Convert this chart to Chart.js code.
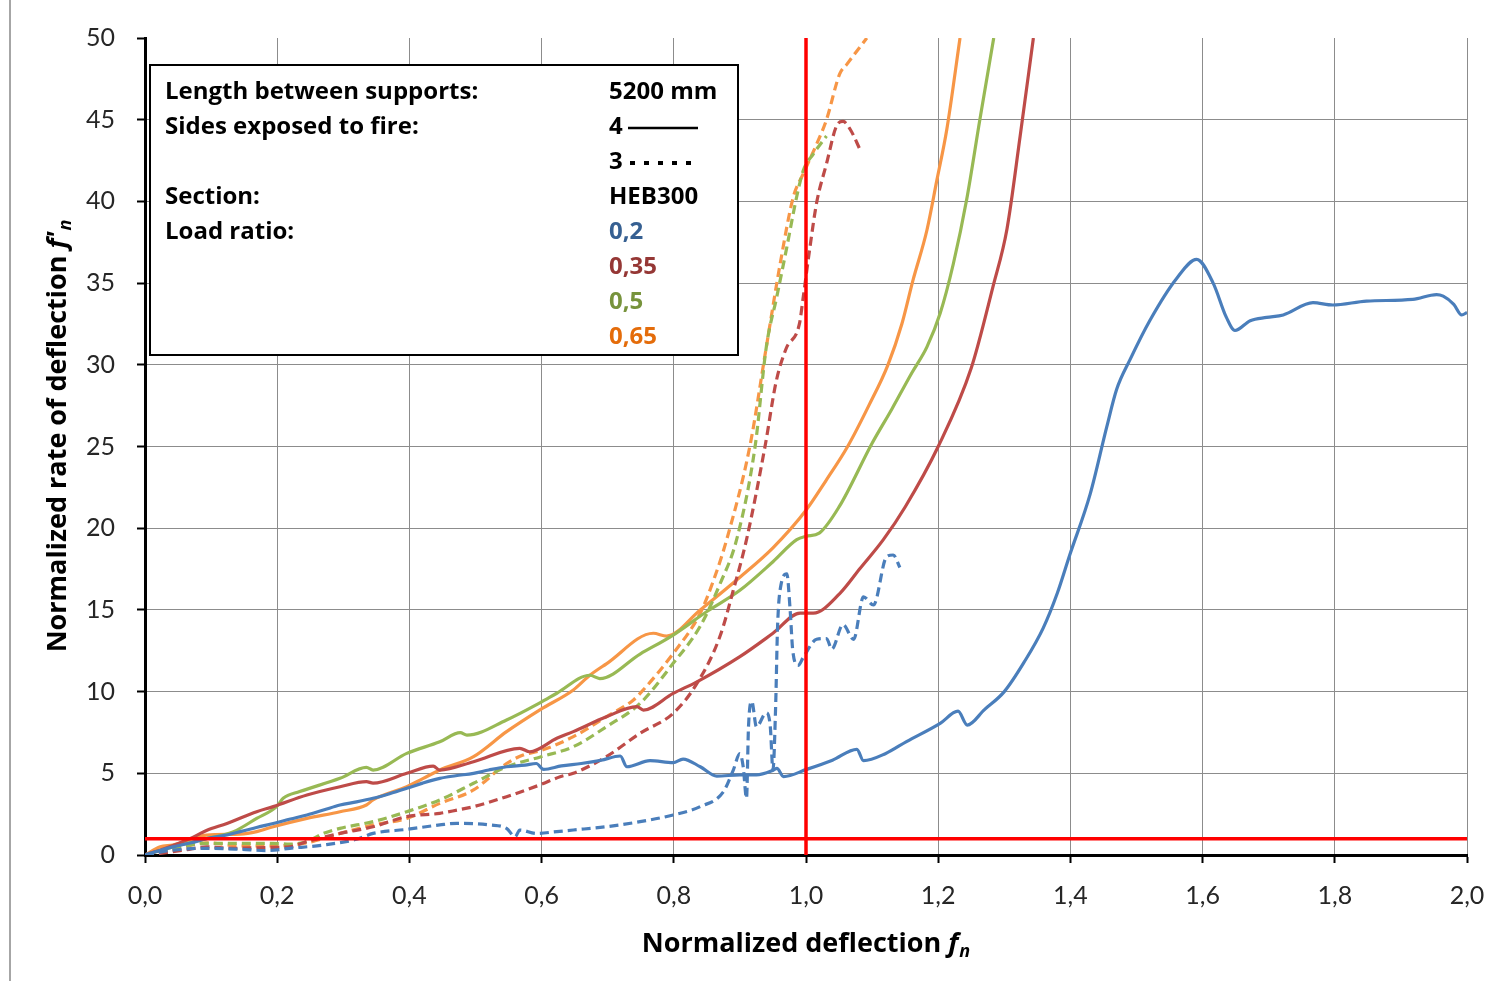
<!DOCTYPE html>
<html>
<head>
<meta charset="utf-8">
<script src="https://cdn.jsdelivr.net/npm/chart.js@4.4.0/dist/chart.umd.min.js"></script>
<style>
  html, body { margin: 0; padding: 0; background: #fff; }
  canvas { display: block; }
</style>
</head>
<body>
<canvas id="grafico" width="1493" height="981"></canvas>
<script>
// Etiquetas de los ejes
const xEtiquetas = ["0,0", "0,2", "0,4", "0,6", "0,8", "1,0", "1,2", "1,4", "1,6", "1,8", "2,0"];
const yEtiquetas = ["0", "5", "10", "15", "20", "25", "30", "35", "40", "45", "50"];

// Textos del recuadro
const textosIzq = ["Length between supports:", "Sides exposed to fire:", "", "Section:", "Load ratio:"];
const cargas = ["0,2", "0,35", "0,5", "0,65"];

// Lineas de referencia en rojo
const refVertX = [1, 1];
const refVertY = [0, 50];
const refHorX = [0, 2];
const refHorY = [1, 1];

// 0,2 - 4 lados (continua)
const azul4X = [0, 0.02, 0.042, 0.07, 0.093, 0.12, 0.144, 0.17, 0.194, 0.22, 0.245, 0.27, 0.295, 0.32, 0.345, 0.37, 0.396, 0.42, 0.446, 0.47, 0.497, 0.52, 0.547, 0.575, 0.592, 0.603, 0.63, 0.66, 0.69, 0.719, 0.729, 0.764, 0.799, 0.814, 0.84, 0.865, 0.9, 0.925, 0.951, 0.956, 0.966, 1.001, 1.04, 1.077, 1.087, 1.12, 1.152, 1.203, 1.23, 1.244, 1.27, 1.3, 1.33, 1.359, 1.38, 1.399, 1.43, 1.455, 1.47, 1.49, 1.52, 1.561, 1.591, 1.616, 1.636, 1.649, 1.672, 1.697, 1.722, 1.767, 1.797, 1.848, 1.918, 1.954, 1.964, 1.98, 1.992, 2.0];
const azul4Y = [0, 0.25, 0.5, 0.75, 1.0, 1.2, 1.43, 1.7, 1.93, 2.2, 2.45, 2.75, 3.06, 3.25, 3.47, 3.75, 4.08, 4.4, 4.69, 4.85, 5.0, 5.2, 5.4, 5.5, 5.6, 5.24, 5.45, 5.6, 5.8, 6.06, 5.4, 5.77, 5.65, 5.87, 5.4, 4.83, 4.9, 4.9, 5.2, 5.3, 4.8, 5.24, 5.8, 6.47, 5.77, 6.2, 6.94, 8.06, 8.8, 7.95, 8.9, 10.0, 11.8, 13.9, 16.0, 18.36, 22.1, 26.2, 28.5, 30.3, 32.7, 35.3, 36.45, 35.0, 32.9, 32.1, 32.7, 32.9, 33.05, 33.8, 33.66, 33.9, 34.0, 34.3, 34.2, 33.7, 33.05, 33.2];

// 0,2 - 3 lados (discontinua)
const azul3X = [0, 0.042, 0.093, 0.144, 0.184, 0.219, 0.27, 0.32, 0.345, 0.396, 0.446, 0.472, 0.522, 0.547, 0.56, 0.567, 0.592, 0.623, 0.648, 0.698, 0.749, 0.799, 0.84, 0.875, 0.89, 0.9, 0.905, 0.91, 0.913, 0.918, 0.925, 0.94, 0.946, 0.95, 0.954, 0.957, 0.962, 0.971, 0.976, 0.98, 0.988, 0.996, 1.016, 1.031, 1.039, 1.056, 1.072, 1.087, 1.102, 1.122, 1.132, 1.142];
const azul3Y = [0, 0.3, 0.41, 0.35, 0.27, 0.41, 0.61, 0.96, 1.32, 1.57, 1.84, 1.94, 1.84, 1.63, 1.12, 1.53, 1.32, 1.43, 1.53, 1.73, 2.04, 2.45, 2.96, 3.87, 5.2, 6.2, 5.4, 3.47, 7.85, 9.4, 7.85, 8.7, 7.85, 5.2, 9.0, 14.0, 16.5, 17.2, 15.0, 12.5, 11.6, 12.1, 13.2, 13.25, 12.6, 14.1, 13.2, 15.8, 15.3, 18.26, 18.36, 17.6];

// 0,35 - 4 lados
const rojo4X = [0, 0.03, 0.068, 0.093, 0.124, 0.169, 0.194, 0.245, 0.295, 0.335, 0.345, 0.396, 0.436, 0.446, 0.497, 0.567, 0.582, 0.623, 0.648, 0.698, 0.744, 0.754, 0.799, 0.835, 0.9, 0.95, 0.991, 1.011, 1.051, 1.082, 1.117, 1.15, 1.2, 1.25, 1.283, 1.304, 1.324, 1.344];
const rojo4Y = [0, 0.4, 1.0, 1.5, 1.93, 2.65, 2.96, 3.67, 4.18, 4.49, 4.4, 5.0, 5.44, 5.2, 5.71, 6.53, 6.32, 7.14, 7.55, 8.46, 9.08, 8.87, 9.89, 10.6, 12.14, 13.57, 14.8, 14.8, 16.0, 17.55, 19.3, 21.3, 25.0, 29.8, 34.8, 38.3, 44.0, 50];

// 0,35 - 3 lados
const rojo3X = [0, 0.023, 0.06, 0.093, 0.134, 0.194, 0.219, 0.245, 0.295, 0.345, 0.396, 0.446, 0.472, 0.497, 0.547, 0.598, 0.628, 0.648, 0.698, 0.749, 0.799, 0.835, 0.87, 0.89, 0.91, 0.938, 0.955, 0.97, 0.99, 0.996, 1.006, 1.016, 1.031, 1.046, 1.056, 1.067, 1.082];
const rojo3Y = [0, 0.1, 0.3, 0.5, 0.41, 0.47, 0.5, 0.82, 1.32, 1.73, 2.35, 2.55, 2.75, 2.96, 3.57, 4.3, 4.79, 5.0, 6.02, 7.45, 8.67, 10.5, 13.4, 16.2, 19.3, 25.0, 29.0, 31.0, 32.5, 34.2, 37.2, 39.9, 42.3, 44.6, 44.9, 44.4, 43.15];

// 0,5 - 4 lados
const verde4X = [0, 0.042, 0.093, 0.134, 0.169, 0.199, 0.209, 0.234, 0.295, 0.335, 0.345, 0.396, 0.446, 0.477, 0.487, 0.547, 0.598, 0.623, 0.673, 0.688, 0.749, 0.799, 0.85, 0.9, 0.95, 0.986, 1.0, 1.02, 1.05, 1.1, 1.13, 1.16, 1.183, 1.203, 1.223, 1.243, 1.263, 1.284];
const verde4Y = [0, 0.5, 1.0, 1.43, 2.24, 2.96, 3.47, 3.88, 4.69, 5.36, 5.2, 6.22, 6.93, 7.49, 7.34, 8.26, 9.32, 9.9, 11.0, 10.8, 12.3, 13.46, 14.9, 16.2, 17.95, 19.3, 19.5, 19.7, 21.3, 25.2, 27.3, 29.5, 31.1, 33.15, 36.2, 40.1, 45.0, 50];

// 0,5 - 3 lados
const verde3X = [0, 0.042, 0.093, 0.144, 0.194, 0.219, 0.245, 0.27, 0.295, 0.345, 0.396, 0.446, 0.497, 0.547, 0.598, 0.648, 0.698, 0.749, 0.799, 0.84, 0.87, 0.895, 0.923, 0.94, 0.956, 0.971, 0.986, 0.996, 1.011, 1.031];
const verde3Y = [0, 0.4, 0.71, 0.71, 0.71, 0.67, 0.82, 1.32, 1.63, 2.04, 2.65, 3.37, 4.39, 5.4, 6.0, 6.63, 7.85, 9.28, 11.73, 14.0, 16.6, 19.3, 25.0, 31.1, 34.2, 37.2, 40.3, 41.9, 42.9, 44.0];

// 0,65 - 4 lados
const naranja4X = [0, 0.023, 0.042, 0.093, 0.144, 0.169, 0.194, 0.245, 0.295, 0.335, 0.345, 0.396, 0.421, 0.446, 0.497, 0.547, 0.598, 0.648, 0.673, 0.698, 0.769, 0.789, 0.84, 0.9, 0.95, 1.0, 1.03, 1.063, 1.095, 1.124, 1.145, 1.162, 1.183, 1.198, 1.213, 1.233];
const naranja4Y = [0, 0.5, 0.61, 1.22, 1.28, 1.43, 1.73, 2.24, 2.65, 3.06, 3.37, 4.18, 4.69, 5.2, 6.02, 7.55, 8.9, 10.1, 11.0, 11.7, 13.57, 13.4, 15.0, 17.0, 18.8, 21.1, 22.9, 25.0, 27.5, 30.0, 32.5, 35.2, 38.25, 41.3, 44.4, 50];

// 0,65 - 3 lados
const naranja3X = [0, 0.042, 0.093, 0.144, 0.194, 0.245, 0.295, 0.345, 0.396, 0.446, 0.497, 0.547, 0.572, 0.598, 0.648, 0.698, 0.739, 0.749, 0.799, 0.84, 0.86, 0.88, 0.915, 0.94, 0.961, 0.981, 0.996, 1.016, 1.031, 1.051, 1.062, 1.092];
const naranja3Y = [0, 0.3, 0.75, 0.55, 0.55, 0.75, 1.32, 1.84, 2.24, 3.16, 3.98, 5.6, 6.12, 6.38, 7.24, 8.46, 9.49, 9.89, 12.33, 14.8, 16.8, 19.3, 25.0, 31.1, 36.2, 40.3, 41.7, 43.5, 45.0, 47.8, 48.4, 50];

const AZUL = "#4A7EBB", ROJO = "#BE4B48", VERDE = "#98B954", NARANJA = "#F79646";
const coloresTexto = ["#366092", "#953735", "#77933C", "#E46C0A"];
const FUENTE = "'Open Sans', Lato, sans-serif";
const FUENTE_EJES = "Lato, 'Open Sans', sans-serif";

function puntos(xs, ys) {
  return xs.map((x, i) => ({ x: x, y: ys[i] }));
}

function serie(xs, ys, color, discontinua) {
  return {
    data: puntos(xs, ys),
    borderColor: color,
    borderWidth: 3.2,
    borderDash: discontinua ? [9, 5] : [],
    pointRadius: 0,
    showLine: true,
    cubicInterpolationMode: "monotone",
    order: 2
  };
}

// texto con f cursiva y subindice n
function tituloEje(ctx, base, simbolo, x, y) {
  ctx.font = "bold 27px " + FUENTE;
  const w1 = ctx.measureText(base).width;
  ctx.font = "italic bold 27px " + FUENTE;
  const w2 = ctx.measureText(simbolo).width;
  ctx.font = "italic bold 18px " + FUENTE;
  const w3 = ctx.measureText("n").width;
  const x0 = x - (w1 + w2 + w3 + 1) / 2;
  ctx.font = "bold 27px " + FUENTE;
  ctx.fillText(base, x0, y);
  ctx.font = "italic bold 27px " + FUENTE;
  ctx.fillText(simbolo, x0 + w1, y);
  ctx.font = "italic bold 18px " + FUENTE;
  ctx.fillText("n", x0 + w1 + w2 + 1, y + 8);
}

// Dibuja titulos de ejes, recuadro de texto y el borde gris
const decoracion = {
  id: "decoracion",
  afterDraw(chart) {
    const ctx = chart.ctx;
    ctx.save();

    // borde gris de la pagina
    ctx.strokeStyle = "#A6A6A6";
    ctx.lineWidth = 2;
    ctx.beginPath();
    ctx.moveTo(10, 0);
    ctx.lineTo(10, 981);
    ctx.stroke();

    // recuadro
    ctx.fillStyle = "#fff";
    ctx.fillRect(150, 65, 588, 290);
    ctx.strokeStyle = "#000";
    ctx.lineWidth = 2;
    ctx.strokeRect(150, 65, 588, 290);

    ctx.font = "bold 24px " + FUENTE;
    ctx.textBaseline = "middle";
    ctx.textAlign = "left";
    ctx.fillStyle = "#000";
    textosIzq.forEach((t, i) => ctx.fillText(t, 165, 92 + i * 35));

    ctx.fillText("5200 mm", 609, 92);
    ctx.fillText("4", 609, 127);
    ctx.fillText("3", 609, 162);
    ctx.fillText("HEB300", 609, 197);

    ctx.lineWidth = 2.5;
    ctx.beginPath();
    ctx.moveTo(628, 128);
    ctx.lineTo(698, 128);
    ctx.stroke();
    ctx.setLineDash([5, 9]);
    ctx.lineWidth = 4;
    ctx.beginPath();
    ctx.moveTo(630, 163);
    ctx.lineTo(700, 163);
    ctx.stroke();
    ctx.setLineDash([]);

    cargas.forEach((t, i) => {
      ctx.fillStyle = coloresTexto[i];
      ctx.fillText(t, 609, 232 + i * 35);
    });

    // titulos de ejes
    ctx.fillStyle = "#000";
    const xa = chart.chartArea;
    tituloEje(ctx, "Normalized deflection ", "f", (xa.left + xa.right) / 2, 944);

    ctx.save();
    ctx.translate(58, 436);
    ctx.rotate(-Math.PI / 2);
    tituloEje(ctx, "Normalized rate of deflection ", "f'", 0, 0);
    ctx.restore();

    ctx.restore();
  }
};

const datasets = [
  { data: puntos(refVertX, refVertY), borderColor: "#FF0000", borderWidth: 3.5, pointRadius: 0, showLine: true, order: 0 },
  { data: puntos(refHorX, refHorY), borderColor: "#FF0000", borderWidth: 3.5, pointRadius: 0, showLine: true, order: 0 },
  serie(azul4X, azul4Y, AZUL, false),
  serie(azul3X, azul3Y, AZUL, true),
  serie(rojo4X, rojo4Y, ROJO, false),
  serie(rojo3X, rojo3Y, ROJO, true),
  serie(verde4X, verde4Y, VERDE, false),
  serie(verde3X, verde3Y, VERDE, true),
  serie(naranja4X, naranja4Y, NARANJA, false),
  serie(naranja3X, naranja3Y, NARANJA, true)
];

const colorRejilla = ctx => (ctx.tick && ctx.tick.value === 50) ? "rgba(0,0,0,0)" : "#8C8C8C";

new Chart(document.getElementById("grafico").getContext("2d"), {
  type: "scatter",
  data: { datasets },
  options: {
    responsive: false,
    animation: false,
    layout: { padding: { top: 38, right: 26, left: 0, bottom: 0 } },
    plugins: { legend: { display: false }, tooltip: { enabled: false } },
    scales: {
      x: {
        type: "linear",
        min: 0,
        max: 2,
        afterFit: s => { s.height = 126; s.paddingLeft = 0; s.paddingRight = 0; },
        ticks: {
          stepSize: 0.2,
          padding: 18,
          color: "#262626",
          font: { family: FUENTE_EJES, size: 25 },
          callback: (v, i) => xEtiquetas[i]
        },
        grid: { color: colorRejilla, lineWidth: 1, tickColor: "#000", tickWidth: 2, tickLength: 8 },
        border: { color: "#000", width: 3 }
      },
      y: {
        min: 0,
        max: 50,
        afterFit: s => { s.width = 145; s.paddingTop = 0; s.paddingBottom = 0; },
        ticks: {
          stepSize: 5,
          padding: 22,
          color: "#262626",
          font: { family: FUENTE_EJES, size: 25 },
          callback: (v, i) => yEtiquetas[i]
        },
        grid: { color: colorRejilla, lineWidth: 1, tickColor: "#000", tickWidth: 2, tickLength: 8 },
        border: { color: "#000", width: 3 }
      }
    }
  },
  plugins: [decoracion]
});
</script>
</body>
</html>
